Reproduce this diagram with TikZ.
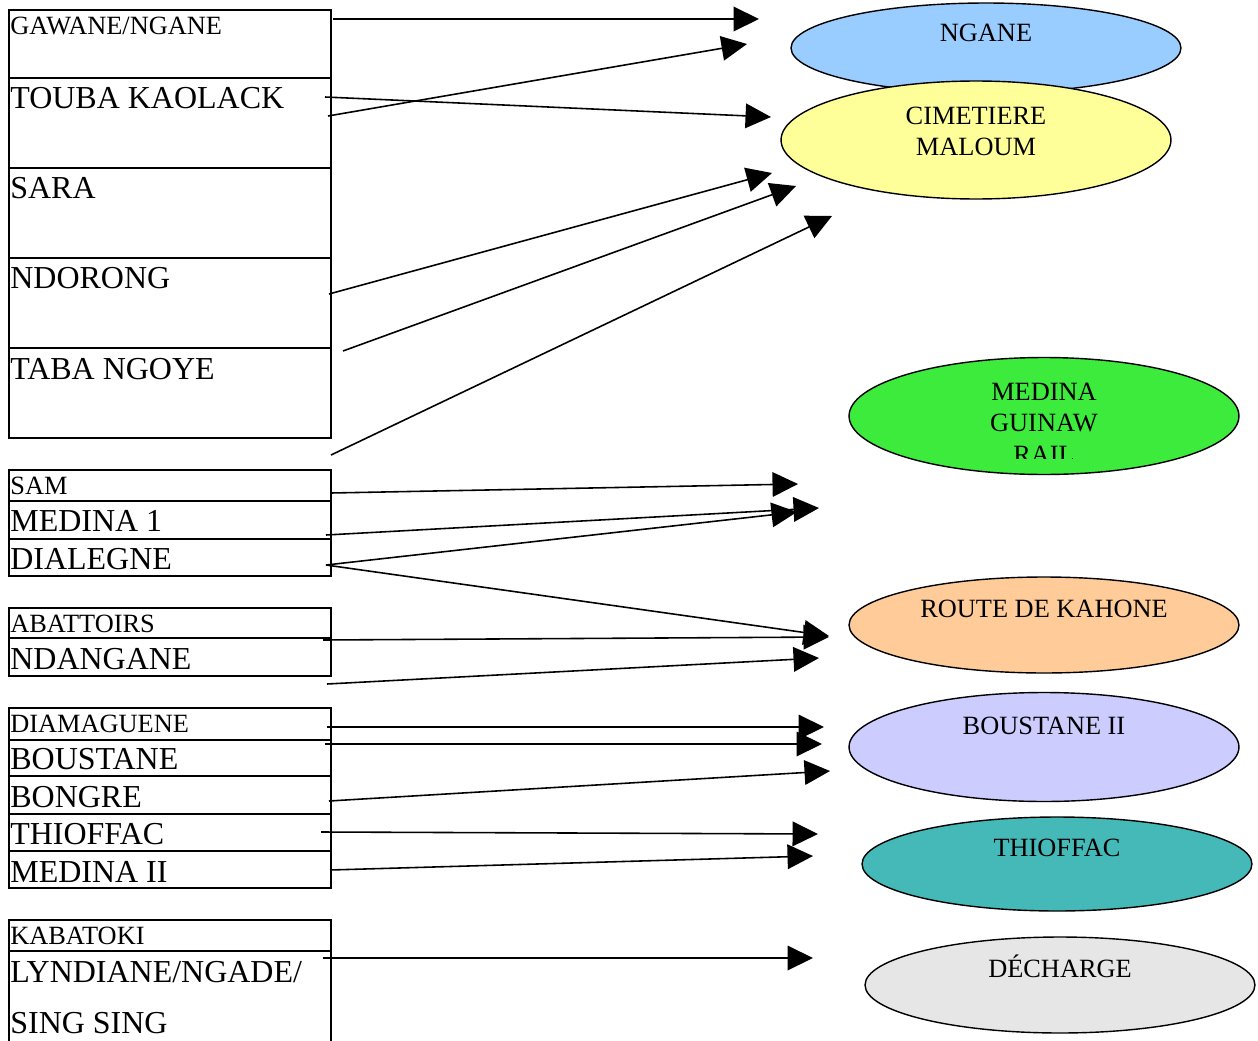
\documentclass[tikz,border=0pt]{standalone}
\usepackage{fontspec}
\setmainfont{Liberation Serif}
\usetikzlibrary{arrows.meta,shapes.geometric}
\definecolor{nganeblue}{RGB}{153,204,255}
\definecolor{maloumyellow}{RGB}{255,255,153}
\definecolor{railgreen}{RGB}{60,235,60}
\definecolor{kahoneorange}{RGB}{255,204,153}
\definecolor{boustanemauve}{RGB}{204,204,255}
\definecolor{thioffacteal}{RGB}{69,184,184}
\definecolor{dechargegrey}{RGB}{230,230,230}
\begin{document}
\begin{tikzpicture}[x=0.02cm,y=-0.02cm,
    cell/.style={line width=0.6pt},
    big/.style={anchor=base west,inner sep=0pt,font=\fontsize{18.2}{20}\selectfont},
    small/.style={anchor=base west,inner sep=0pt,font=\fontsize{15}{17}\selectfont},
    zone/.style={ellipse,draw,line width=0.8pt,minimum width=7.8cm,inner sep=0pt},
    ztext/.style={anchor=base,inner sep=0pt,font=\fontsize{15}{17}\selectfont},
    arr/.style={line width=0.9pt,-{Triangle[length=14.5pt,width=14pt]}}]
                    \useasboundingbox (0,0) rectangle (1258,1041);

                    % quartiers
                    \draw[cell] (9,10) rectangle (331,438);
                    \foreach \y in {78,168,258,348} \draw[cell] (9,\y) -- (331,\y);
                    \draw[cell] (9,470) rectangle (331,576);
                    \foreach \y in {501,539} \draw[cell] (9,\y) -- (331,\y);
                    \draw[cell] (9,608) rectangle (331,676);
                    \draw[cell] (9,638) -- (331,638);
                    \draw[cell] (9,708) rectangle (331,888);
                    \foreach \y in {740,776,814,851} \draw[cell] (9,\y) -- (331,\y);
                    \draw[cell] (9,1041) -- (9,920) -- (331,920) -- (331,1041);
                    \draw[cell] (9,951) -- (331,951);

                    \node[small] (gawane) at (10,34) {GAWANE/NGANE};
                    \node[big] (touba) at (10,108) {TOUBA KAOLACK};
                    \node[big] (sara) at (10,198) {SARA};
                    \node[big] (ndorong) at (10,288) {NDORONG};
                    \node[big] (taba) at (10,379) {TABA NGOYE};
                    \node[small] (sam) at (10,494) {SAM};
                    \node[big] (medina1) at (10,531) {MEDINA 1};
                    \node[big] (dialegne) at (10,569) {DIALEGNE};
                    \node[small] (abattoirs) at (10,632) {ABATTOIRS};
                    \node[big] (ndangane) at (10,669) {NDANGANE};
                    \node[small] (diamaguene) at (10,732) {DIAMAGUENE};
                    \node[big] (boustane) at (10,769) {BOUSTANE};
                    \node[big] (bongre) at (10,807) {BONGRE};
                    \node[big] (thioffac) at (10,844) {THIOFFAC};
                    \node[big] (medina2) at (10,882) {MEDINA II};
                    \node[small] (kabatoki) at (10,944) {KABATOKI};
                    \node[big] (lyndiane) at (10,982) {LYNDIANE/NGADE/};
                    \node[big] (singsing) at (10,1033) {SING SING};

                    % sites
                    \node[zone,fill=nganeblue,minimum height=1.8cm] (ngane) at (986,48) {};
                    \node[zone,fill=maloumyellow,minimum height=2.36cm] (maloum) at (976,140) {};
                    \node[zone,fill=railgreen,minimum height=2.34cm] (rail) at (1044,416) {};
                    \node[zone,fill=kahoneorange,minimum height=1.92cm] (kahone) at (1044,625) {};
                    \node[zone,fill=boustanemauve,minimum height=2.18cm] (boustane2) at (1044,747) {};
                    \node[zone,fill=thioffacteal,minimum height=1.88cm] (thioffac2) at (1057,864) {};
                    \node[zone,fill=dechargegrey,minimum height=1.92cm] (decharge) at (1060,985) {};

                    \node[ztext] (ngane-t) at (986,41) {NGANE};
                    \node[ztext] (maloum-t1) at (976,124) {CIMETIERE};
                    \node[ztext] (maloum-t2) at (976,155) {MALOUM};
                    \node[ztext] (rail-t1) at (1044,400) {MEDINA};
                    \node[ztext] (rail-t2) at (1044,431) {GUINAW};
                    \begin{scope}
                        \clip (849,358) rectangle (1239,458);
                        \node[ztext] (rail-t3) at (1044,463) {RAIL};
                    \end{scope}
                    \node[ztext] (kahone-t) at (1044,617) {ROUTE DE KAHONE};
                    \node[ztext] (boustane2-t) at (1044,734) {BOUSTANE II};
                    \node[ztext] (thioffac2-t) at (1057,856) {THIOFFAC};
                    \node[ztext] (decharge-t) at (1060,977) {DÉCHARGE};

                    % bouts des fleches
                    \coordinate (gawane-s) at (333,19);
                    \coordinate (touba-s1) at (328,116);
                    \coordinate (touba-s2) at (325,97);
                    \coordinate (ndorong-s) at (329,294);
                    \coordinate (ndorong-s2) at (343,351);
                    \coordinate (taba-s) at (331,455);
                    \coordinate (sam-s) at (331,493);
                    \coordinate (medina1-s) at (326,535);
                    \coordinate (dialegne-s) at (326,565);
                    \coordinate (abattoirs-s) at (323,640);
                    \coordinate (ndangane-s) at (327,684);
                    \coordinate (diamaguene-s) at (327,727);
                    \coordinate (boustane-s) at (325,744);
                    \coordinate (bongre-s) at (329,801);
                    \coordinate (thioffac-s) at (321,832);
                    \coordinate (medina2-s) at (330,870);
                    \coordinate (lyndiane-s) at (323,958);

                    \coordinate (ngane-e1) at (759,19);
                    \coordinate (ngane-e2) at (747,44);
                    \coordinate (maloum-e1) at (771,117);
                    \coordinate (maloum-e2) at (772,173);
                    \coordinate (maloum-e3) at (796,186);
                    \coordinate (maloum-e4) at (832,216);
                    \coordinate (rail-e1) at (798,484);
                    \coordinate (rail-e2) at (819,508);
                    \coordinate (rail-e3) at (797,512);
                    \coordinate (kahone-e1) at (829,636);
                    \coordinate (kahone-e2) at (829,637);
                    \coordinate (kahone-e3) at (819,658);
                    \coordinate (boustane2-e1) at (824,727);
                    \coordinate (boustane2-e2) at (822,744);
                    \coordinate (boustane2-e3) at (830,771);
                    \coordinate (thioffac2-e1) at (818,834);
                    \coordinate (thioffac2-e2) at (813,856);
                    \coordinate (decharge-e) at (813,958);

                    \draw[arr] (gawane-s)--(ngane-e1);
                    \draw[arr] (touba-s1)--(ngane-e2);
                    \draw[arr] (touba-s2)--(maloum-e1);
                    \draw[arr] (ndorong-s)--(maloum-e2);
                    \draw[arr] (ndorong-s2)--(maloum-e3);
                    \draw[arr] (taba-s)--(maloum-e4);
                    \draw[arr] (sam-s)--(rail-e1);
                    \draw[arr] (medina1-s)--(rail-e2);
                    \draw[arr] (dialegne-s)--(rail-e3);
                    \draw[arr] (dialegne-s)--(kahone-e1);
                    \draw[arr] (abattoirs-s)--(kahone-e2);
                    \draw[arr] (ndangane-s)--(kahone-e3);
                    \draw[arr] (diamaguene-s)--(boustane2-e1);
                    \draw[arr] (boustane-s)--(boustane2-e2);
                    \draw[arr] (bongre-s)--(boustane2-e3);
                    \draw[arr] (thioffac-s)--(thioffac2-e1);
                    \draw[arr] (medina2-s)--(thioffac2-e2);
                    \draw[arr] (lyndiane-s)--(decharge-e);
                \end{tikzpicture}
\end{document}
